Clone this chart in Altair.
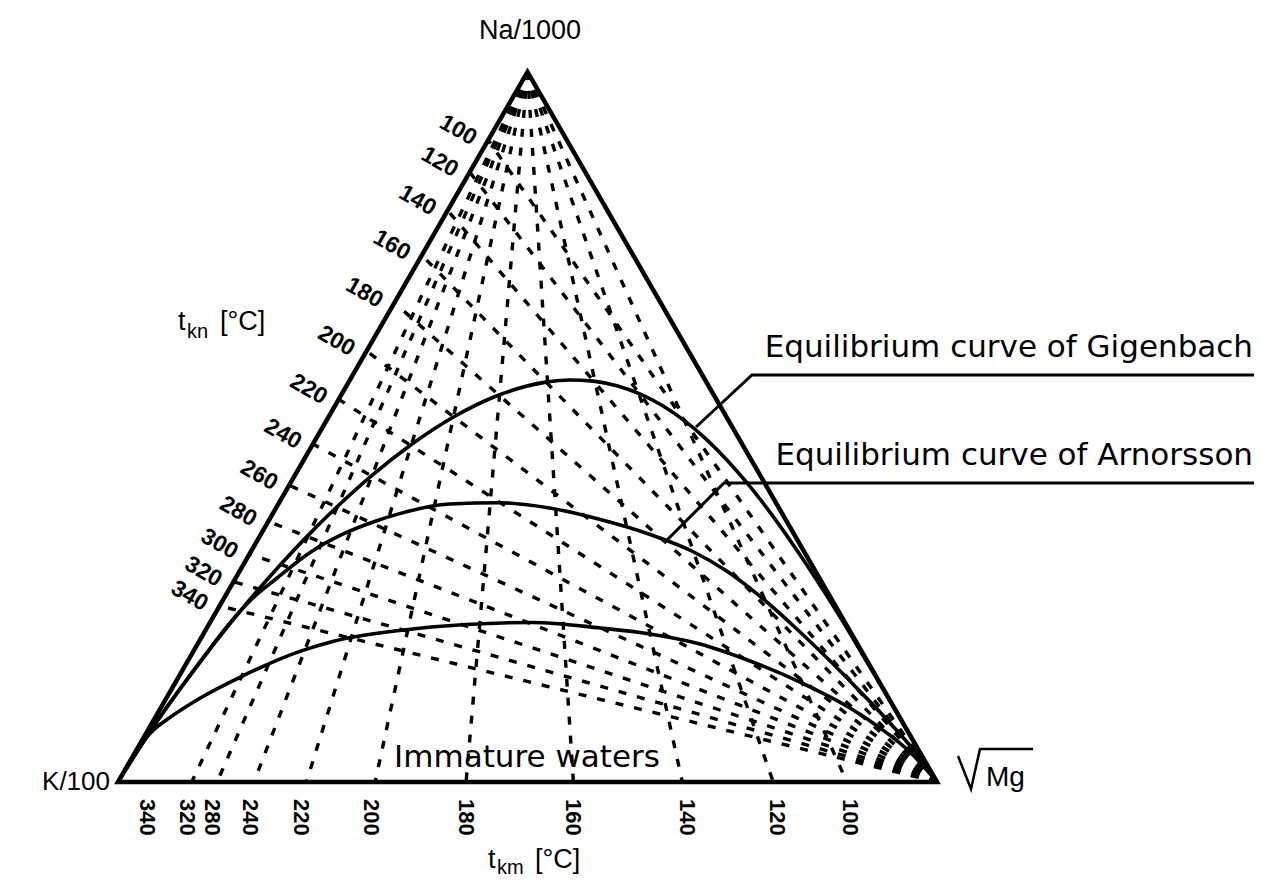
import altair as alt
import pandas as pd

# ---------------- data ----------------
# Ternary frame: x = position along the K/100 -> sqrt(Mg) base (0..1),
# y = Na/1000 fraction (height, 0 at base, 1 at the Na/1000 apex).

# t_kn (Na-K) lines: from the sqrt(Mg) corner to the K/100 - Na/1000 side
tkn_labels = ["100", "120", "140", "160", "180", "200", "220",
              "240", "260", "280", "300", "320", "340"]
tkn_na_frac = [0.904, 0.859, 0.805, 0.742, 0.675, 0.607, 0.539,
               0.476, 0.418, 0.367, 0.321, 0.282, 0.248]

# t_km (K-Mg) lines: from the Na/1000 apex to the base
tkm_line_labels = ["320", "280", "240", "220", "200", "180", "160", "140", "120", "100"]
tkm_line_base = [0.090, 0.121, 0.166, 0.230, 0.314, 0.425, 0.556, 0.689, 0.800, 0.890]
tkm_tick_labels = ["340", "320", "280", "240", "220", "200", "180", "160", "140", "120", "100"]
tkm_tick_base = [0.035, 0.084, 0.115, 0.161, 0.223, 0.309, 0.425, 0.556, 0.695, 0.805, 0.894]

# Equilibrium curve of Gigenbach
gig_x = [0.0, 0.0355, 0.0563, 0.0997, 0.1297, 0.149, 0.1718, 0.1989, 0.2306, 0.2675,
         0.3098, 0.3574, 0.4096, 0.4651, 0.5226, 0.5517, 0.5803, 0.609, 0.6371, 0.6646,
         0.6915, 0.7181, 0.7437, 0.7693, 0.7939, 0.8411, 0.884, 0.9036, 0.9215, 1.0]
gig_y = [0.0, 0.0648, 0.0998, 0.1685, 0.2130, 0.2404, 0.2715, 0.3067, 0.3456, 0.3876,
         0.4315, 0.4746, 0.514, 0.545, 0.5632, 0.5662, 0.5646, 0.5582, 0.5467, 0.5302,
         0.509, 0.483, 0.4533, 0.4195, 0.3833, 0.3056, 0.228, 0.1902, 0.1557, 0.0]

# Equilibrium curve of Arnorsson
arn_x = [0.0, 0.0561, 0.1, 0.1293, 0.1488, 0.1615, 0.1939, 0.2341, 0.2744, 0.3159,
         0.3439, 0.4049, 0.4659, 0.5268, 0.5878, 0.6488, 0.7012, 0.7427, 0.7829, 0.8232,
         0.8646, 0.9049, 0.9451, 0.975, 1.0]
arn_y = [0.0, 0.0997, 0.1685, 0.2135, 0.2402, 0.2556, 0.2870, 0.3230, 0.3490, 0.3680,
         0.3780, 0.3915, 0.3933, 0.3860, 0.3700, 0.3490, 0.3250, 0.2975, 0.2625, 0.2215,
         0.1760, 0.1290, 0.0800, 0.0400, 0.0]

# lower curve (immature waters boundary)
imm_x = [0.0, 0.03, 0.045, 0.0598, 0.1, 0.1488, 0.222, 0.2622, 0.3439, 0.4256, 0.5061,
         0.5885, 0.6496, 0.7106, 0.7717, 0.8327, 0.8938, 0.9304, 0.967, 1.0]
imm_y = [0.0, 0.056, 0.075, 0.088, 0.118, 0.1475, 0.184, 0.198, 0.2135, 0.2219, 0.2247,
         0.2169, 0.2085, 0.1944, 0.1704, 0.1408, 0.1042, 0.0761, 0.0423, 0.0]

# ---------------- layout ----------------
W, H = 1246, 870
K_PX, BASE_PY, APEX_PY = 118, 782, 72
UX, UY = 819, 710
XMIN = -(K_PX - 8) / UX
XMAX = XMIN + W / UX
YMAX = 1 + (APEX_PY - 8) / UY
YMIN = YMAX - H / UY


def gx(page_x):
    return (page_x - K_PX) / UX


def gy(page_y):
    return (BASE_PY - page_y) / UY


X = alt.X("x:Q", scale=alt.Scale(domain=[XMIN, XMAX], nice=False, zero=False), axis=None)
Y = alt.Y("y:Q", scale=alt.Scale(domain=[YMIN, YMAX], nice=False, zero=False), axis=None)

# dashed temperature lines (each drawn starting from its convergence corner)
rows = []
for lab, b in zip(tkm_line_labels, tkm_line_base):
    rows.append({"id": "m" + lab, "i": 0, "x": 0.5, "y": 1.0})
    rows.append({"id": "m" + lab, "i": 1, "x": b, "y": 0.0})
for lab, h in zip(tkn_labels, tkn_na_frac):
    rows.append({"id": "n" + lab, "i": 0, "x": 1.0, "y": 0.0})
    rows.append({"id": "n" + lab, "i": 1, "x": h / 2, "y": h})
dash_df = pd.DataFrame(rows)

crow = []
for name, xs, ys in [("gig", gig_x, gig_y), ("arn", arn_x, arn_y), ("imm", imm_x, imm_y)]:
    for i, (a, b) in enumerate(zip(xs, ys)):
        crow.append({"id": name, "i": i, "x": a, "y": b})
curve_df = pd.DataFrame(crow)

tri_df = pd.DataFrame({"i": [0, 1, 2, 3, 4],
                       "x": [0.0, 1.0, 0.5, 0.0, 1.0],
                       "y": [0.0, 0.0, 1.0, 0.0, 0.0]})

lead_pts = [("g", [(1262, 375), (752, 375), (696, 427)]),
            ("a", [(1262, 483), (724, 483), (667, 540)])]
lrows = []
for name, pts in lead_pts:
    for i, (px, py) in enumerate(pts):
        lrows.append({"id": name, "i": i, "x": gx(px), "y": gy(py)})
lead_df = pd.DataFrame(lrows)

rad_pts = [(958, 756), (971, 789), (980, 749), (1033, 749)]
rad_df = pd.DataFrame({"i": range(len(rad_pts)),
                       "x": [gx(p[0]) for p in rad_pts],
                       "y": [gy(p[1]) for p in rad_pts]})

tkn_lab_df = pd.DataFrame({"t": tkn_labels,
                           "x": [h / 2 - 30 / UX for h in tkn_na_frac],
                           "y": [h + 10 / UY for h in tkn_na_frac]})
tkm_lab_df = pd.DataFrame({"t": tkm_tick_labels,
                           "x": tkm_tick_base,
                           "y": [gy(799)] * len(tkm_tick_base)})

dashed = alt.Chart(dash_df).mark_line(
    color="black", strokeWidth=3.4, strokeDash=[8, 11], strokeCap="butt"
).encode(X, Y, detail="id:N", order="i:Q")

curves = alt.Chart(curve_df).mark_line(
    color="black", strokeWidth=3.6, interpolate="monotone"
).encode(X, Y, detail="id:N", order="i:Q")

triangle = alt.Chart(tri_df).mark_line(
    color="black", strokeWidth=4.5, strokeJoin="miter"
).encode(X, Y, order="i:Q")

leaders = alt.Chart(lead_df).mark_line(
    color="black", strokeWidth=3, strokeJoin="miter"
).encode(X, Y, detail="id:N", order="i:Q")

radical = alt.Chart(rad_df).mark_line(
    color="black", strokeWidth=2.5, strokeJoin="miter"
).encode(X, Y, order="i:Q")

tkn_text = alt.Chart(tkn_lab_df).mark_text(
    angle=30, align="center", baseline="middle", font="Liberation Sans",
    fontWeight="bold", fontSize=23, color="black"
).encode(X, Y, text="t:N")

tkm_text = alt.Chart(tkm_lab_df).mark_text(
    angle=90, align="left", baseline="middle", font="Liberation Sans",
    fontWeight="bold", fontSize=22, color="black"
).encode(X, Y, text="t:N")


def label(txt, x, y, size, align="left", baseline="alphabetic", font="Liberation Sans"):
    return alt.Chart(pd.DataFrame({"t": [txt]})).mark_text(
        align=align, baseline=baseline, font=font, fontSize=size, color="black"
    ).encode(x=alt.value(x - 8), y=alt.value(y - 8), text="t:N")


texts = [
    label("Na/1000", 530, 31, 27, align="center", baseline="middle"),
    label("K/100", 110, 782, 26, align="right", baseline="middle"),
    label("Mg", 986, 786, 28),
    label("Equilibrium curve of Gigenbach", 1253, 357, 31, align="right", font="DejaVu Sans"),
    label("Equilibrium curve of Arnorsson", 1253, 465, 31, align="right", font="DejaVu Sans"),
    label("Immature waters", 527, 767, 31, align="center", font="DejaVu Sans"),
    label("t", 178, 330, 27),
    label("kn", 187, 338, 20),
    label("[°C]", 220, 330, 27),
    label("t", 488, 868, 27),
    label("km", 497, 874, 20),
    label("[°C]", 535, 868, 27),
]

chart = alt.layer(dashed, curves, triangle, leaders, radical, tkn_text, tkm_text, *texts).properties(
    width=W, height=H, autosize=alt.AutoSizeParams(type="none"), padding=0, background="white"
).configure_view(stroke=None)

chart.save("out.html", embed_options={"renderer": "svg", "actions": False})
